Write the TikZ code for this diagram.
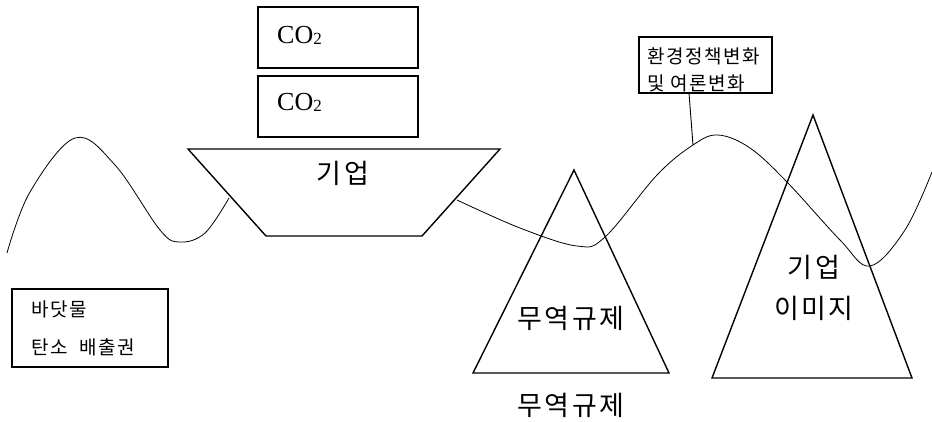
\documentclass[tikz,border=0pt]{standalone}
\usepackage{fontspec}
\setmainfont{Liberation Serif}
\newfontfamily\kr[LetterSpace=9]{Noto Sans CJK KR}
\newfontfamily\krs[LetterSpace=8]{Noto Sans CJK KR}
\begin{document}
\begin{tikzpicture}[x=1pt,y=-1pt,
  shapeline/.style={draw=black,line width=1.4pt},
  wave/.style={draw=black,line width=0.8pt},
  bigkr/.style={inner sep=0pt,font=\kr\fontsize{27}{27}\selectfont},
  smallkr/.style={inner sep=0pt,anchor=west,font=\krs\fontsize{19}{19}\selectfont},
  cotext/.style={inner sep=0pt,anchor=west,font=\fontsize{26}{26}\selectfont},
  boxthin/.style={draw=black,line width=1.1pt}]
\useasboundingbox (0,0) rectangle (932,421);
% CO2 boxes
\draw[shapeline] (258,7) rectangle (418,68);
\node[cotext] (co1) at (277,35) {CO{\fontsize{17}{17}\selectfont\raisebox{-1pt}{2}}};
\draw[shapeline] (258,76) rectangle (418,137);
\node[cotext] (co2) at (277,102) {CO{\fontsize{17}{17}\selectfont\raisebox{-1pt}{2}}};
% trapezoid
\coordinate (tA) at (188,149);
\coordinate (tB) at (500,149);
\coordinate (tC) at (422,236);
\coordinate (tD) at (266,236);
\draw[shapeline] (tA) -- (tB) -- (tC) -- (tD) -- cycle;
\node[bigkr] (firm) at (343,173) {기업};
% wave
\coordinate (wL) at (229,198);
\coordinate (wR) at (457,200);
\coordinate (wP) at (693,145);
\draw[wave] plot[smooth,tension=0.6] coordinates {(7,253) (30,192) (75,138) (115,165) (160,230) (180,242) (205,233) (229,198)};
\draw[wave] plot[smooth,tension=0.6] coordinates {(457,200) (520,228) (577,246) (605,237) (657,175) (693,145) (718,135) (750,148) (787,182) (840,240) (870,266) (905,230) (932,172)};
% triangle 1
\coordinate (a1) at (574,170);
\coordinate (b1) at (473,373);
\coordinate (c1) at (669,373);
\draw[shapeline] (a1) -- (c1) -- (b1) -- cycle;
\node[bigkr] (trade) at (571,318) {무역규제};
\node[bigkr] (tradeb) at (571,405) {무역규제};
% triangle 2
\coordinate (a2) at (813,115);
\coordinate (b2) at (712,378);
\coordinate (c2) at (912,378);
\draw[shapeline] (a2) -- (c2) -- (b2) -- cycle;
\node[bigkr] (img1) at (814,267) {기업};
\node[bigkr] (img2) at (814,308) {이미지};
% policy box
\draw[boxthin] (639,37) rectangle (772,93);
\coordinate (pl) at (689,93);
\node[smallkr] (pol1) at (647,56) {환경정책변화};
\node[smallkr] (pol2) at (647,83) {및 여론변화};
\draw[line width=0.9pt] (pl) -- (wP);
% bottom-left box
\draw[shapeline] (12,289) rectangle (168,367);
\node[smallkr] (sea1) at (31,309) {바닷물};
\node[smallkr] (sea2) at (31,347) {탄소\hspace{0.3em} 배출권};
\end{tikzpicture}
\end{document}
